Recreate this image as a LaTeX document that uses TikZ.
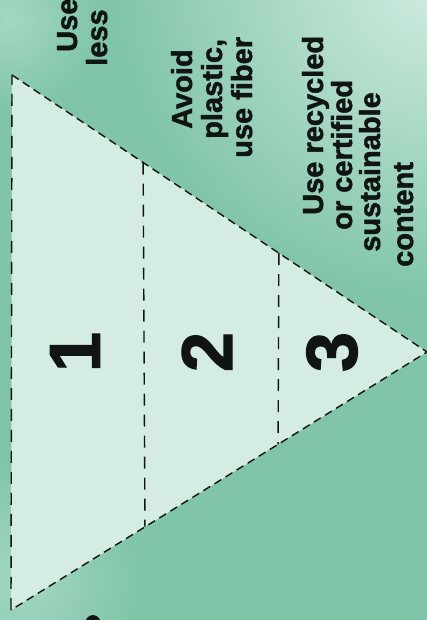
\documentclass[tikz,border=0pt]{standalone}
\usepackage{fontspec}
\setmainfont{Liberation Sans}[BoldFeatures={FakeBold=1.6}]
\usetikzlibrary{calc}
\definecolor{wpink}{HTML}{101413}
\definecolor{wpleaf}{HTML}{80C5A8}
\definecolor{wpmist}{HTML}{D4EDE2}
\definecolor{wpsoft}{HTML}{A3D7C1}
\definecolor{wppale}{HTML}{D4ECE2}
\tikzset{
  wp edge/.style={draw=wpink, line width=1.4pt, dash pattern=on 8pt off 5pt},
  wp cut/.style={draw=wpink, line width=1.4pt, dash pattern=on 12pt off 9pt},
  wp line/.style={font=\bfseries\fontsize{29}{31}\selectfont, text=wpink,
    rotate=90, anchor=base west, inner sep=0pt},
  wp digit/.style={font=\bfseries\fontsize{72}{72}\selectfont, text=wpink,
    rotate=90, inner sep=0pt}
}

\begin{document}
\begin{tikzpicture}[x=1pt, y=1pt]
  \useasboundingbox (0,0) rectangle (427,620);
  \clip (0,0) rectangle (427,620);
  \fill[wpleaf] (0,0) rectangle (427,620);
  \shade[inner color=wpmist, outer color=wpleaf] (440,650) circle (330);
  \shade[inner color=wpsoft, outer color=wpleaf] (20,40) circle (120);
  \shade[inner color=wpsoft, outer color=wpleaf] (10,600) circle (90);
  \coordinate (tl) at (12,545);
  \coordinate (bl) at (11,10);
  \coordinate (tip) at (427,268);
  \coordinate (c1t) at ($(tl)!0.316!(tip)$);
  \coordinate (c1b) at ($(bl)!0.322!(tip)$);
  \coordinate (c2t) at ($(tl)!0.643!(tip)$);
  \coordinate (c2b) at ($(bl)!0.642!(tip)$);
  \fill[wppale] (tl) -- (tip) -- (bl) -- cycle;
  \draw[wp edge] (tl) -- (tip) -- (bl);
  \draw[wp cut] (bl) -- (tl);
  \draw[wp cut] (c1t) -- (c1b);
  \draw[wp cut] (c2t) -- (c2b);
  \foreach \n/\x in {1/75,2/207,3/332} {\node[wp digit] (tier\n) at (\x,268) {\n};}
  \node[wp line] (use) at (77,568) {Use};
  \node[wp line] (less) at (107,554) {less};
  \node[wp line] (avoid) at (192,491) {Avoid};
  \node[wp line] (plastic) at (222,481) {plastic,};
  \node[wp line] (fiber) at (252,462) {use fiber};
  \node[wp line] (recycled) at (323,405) {Use recycled};
  \node[wp line] (certified) at (352,390) {or certified};
  \node[wp line] (sustainable) at (380,368) {sustainable};
  \node[wp line] (content) at (413,353) {content};
  \fill[wpink] (93,-4) ellipse (8 and 9);
\end{tikzpicture}
\end{document}
